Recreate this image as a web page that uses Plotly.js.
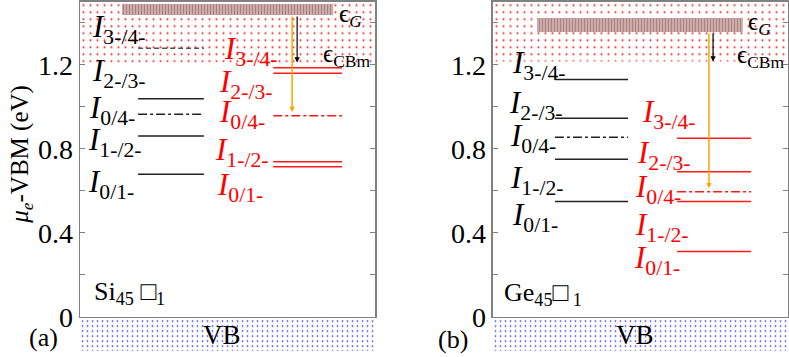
<!DOCTYPE html>
<html>
<head>
<meta charset="utf-8">
<script src="https://cdn.plot.ly/plotly-3.0.1.min.js"></script>
<style>body{margin:0}#chart{width:789px;height:357px}</style>
</head>
<body>
<div id="chart"></div>
<script>
// level names, same order in both panels
const levelNames = ['0/1-', '1-/2-', '0/4-', '2-/3-', '3-/4-']

// (a) Si45 - black and red transition levels (eV)
const siBlack = [0.678, 0.860, 0.964, 1.038, 1.278]
const siRed = [0.714, 0.738, 0.957, 1.159, 1.186]
const siEpsG = 1.463
const siCBm = 1.21
const siArrowTo = 0.975

// (b) Ge45
const geBlack = [0.548, 0.750, 0.854, 0.945, 1.130]
const geRed = [0.310, 0.548, 0.595, 0.690, 0.850]
const geEpsG = 1.389
const geCBm = 1.215
const geArrowTo = 0.612

const yTicks = [0, 0.2, 0.4, 0.6, 0.8, 1.0, 1.2, 1.4]
const yTickText = ['0', '', '0.4', '', '0.8', '', '1.2', '']

const FONT = 'Liberation Serif, Times New Roman, serif'
const YTOP = 1.5

const panels = [
    {
        xa: 'x', ya: 'y', vb: 'y3', name: 'Si', tag: '(a)',
        black: siBlack, red: siRed, epsG: siEpsG, gHalf: 0.026, cbm: siCBm, arrowTo: siArrowTo,
        blackX: [0.197, 0.42], redX: [0.655, 0.888], barX: [0.142, 0.858],
        blackDash: ['solid', 'solid', 'dashdot', 'solid', '5px,3px'],
        blackColor: ['#222', '#222', '#222', '#222', '#555'],
        redDash: ['solid', 'solid', 'dashdot', 'solid', 'solid'],
        orangeX: 0.719, arrowX: 0.736,
        blackLab: {x: [0.020, 0.020, 0.024, 0.034, 0.034], y: [0.634, 0.830, 0.982, 1.160, 1.369]},
        redLab: {x: [0.458, 0.451, 0.464, 0.464, 0.481], y: [0.618, 0.784, 0.965, 1.106, 1.263]},
        compound: 'Si<sub>45</sub> \u25A1<sub>1</sub>', compX: 0.040, compY: 0.113,
        gLab: [0.871, 1.432], cbmLab: [0.818, 1.246],
        tagX: -0.051, tagY: 0.056
    },
    {
        xa: 'x2', ya: 'y2', vb: 'y4', name: 'Ge', tag: '(b)',
        black: geBlack, red: geRed, epsG: geEpsG, gHalf: 0.033, cbm: geCBm, arrowTo: geArrowTo,
        blackX: [0.21, 0.458], redX: [0.624, 0.875], barX: [0.149, 0.847],
        blackDash: ['solid', 'solid', 'dashdot', 'solid', 'solid'],
        blackColor: ['#222', '#222', '#222', '#222', '#222'],
        redDash: ['solid', 'solid', 'dashdot', 'solid', 'solid'],
        orangeX: 0.732, arrowX: 0.746,
        blackLab: {x: [0.058, 0.051, 0.051, 0.047, 0.058], y: [0.475, 0.651, 0.851, 1.008, 1.199]},
        redLab: {x: [0.471, 0.475, 0.475, 0.481, 0.498], y: [0.270, 0.425, 0.606, 0.770, 0.965]},
        compound: 'Ge<sub>45</sub>\u25A1<sub> 1</sub>', compX: 0.031, compY: 0.108,
        gLab: [0.858, 1.394], cbmLab: [0.822, 1.237],
        tagX: 0.527, tagY: 0.048
    }
]

const traces = []
const annotations = []

for (let p of panels) {
    // conduction band region (red dots)
    traces.push({
        x: [0, 1, 1, 0, 0], y: [p.cbm, p.cbm, YTOP, YTOP, p.cbm],
        xaxis: p.xa, yaxis: p.ya, mode: 'lines', fill: 'toself',
        line: {width: 0}, fillcolor: 'rgba(255,255,255,0)',
        fillpattern: {shape: '.', fgcolor: '#ff2020', bgcolor: 'white', size: 7, solidity: 0.07},
        hoverinfo: 'skip', showlegend: false
    })
    // valence band region (blue dots)
    traces.push({
        x: [0, 1, 1, 0, 0], y: [0, 0, 1, 1, 0],
        xaxis: p.xa, yaxis: p.vb, mode: 'lines', fill: 'toself',
        line: {width: 0}, fillcolor: 'rgba(255,255,255,0)',
        fillpattern: {shape: '.', fgcolor: '#2020ff', bgcolor: 'white', size: 5, solidity: 0.09},
        hoverinfo: 'skip', showlegend: false
    })
    // eps_G bar
    const g0 = p.epsG - p.gHalf, g1 = p.epsG + p.gHalf
    traces.push({
        x: [p.barX[0], p.barX[1], p.barX[1], p.barX[0], p.barX[0]], y: [g0, g0, g1, g1, g0],
        xaxis: p.xa, yaxis: p.ya, mode: 'lines', fill: 'toself',
        line: {width: 0}, fillcolor: 'rgb(195,160,160)',
        fillpattern: {shape: '|', fgcolor: 'rgb(175,130,130)', bgcolor: 'rgb(210,180,180)', size: 3, solidity: 0.45},
        hoverinfo: 'skip', showlegend: false
    })
    // levels
    p.black.forEach((v, i) => {
        traces.push({
            x: p.blackX, y: [v, v], xaxis: p.xa, yaxis: p.ya, mode: 'lines',
            line: {color: p.blackColor[i], width: 1.5, dash: p.blackDash[i]},
            hoverinfo: 'skip', showlegend: false
        })
        annotations.push({
            xref: p.xa, yref: p.ya, x: p.blackLab.x[i], y: p.blackLab.y[i],
            xanchor: 'left', yanchor: 'middle', showarrow: false,
            text: '<i>I</i><sub>' + levelNames[i] + '</sub>',
            font: {family: FONT, size: 31, color: 'black'}
        })
    })
    p.red.forEach((v, i) => {
        traces.push({
            x: p.redX, y: [v, v], xaxis: p.xa, yaxis: p.ya, mode: 'lines',
            line: {color: '#ff1a1a', width: 1.5, dash: p.redDash[i]},
            hoverinfo: 'skip', showlegend: false
        })
        annotations.push({
            xref: p.xa, yref: p.ya, x: p.redLab.x[i], y: p.redLab.y[i],
            xanchor: 'left', yanchor: 'middle', showarrow: false,
            text: '<i>I</i><sub>' + levelNames[i] + '</sub>',
            font: {family: FONT, size: 31, color: 'red'}
        })
    })

    // arrows
    annotations.push({
        xref: p.xa, yref: p.ya, axref: p.xa, ayref: p.ya,
        x: p.orangeX, y: p.arrowTo, ax: p.orangeX, ay: g0,
        showarrow: true, arrowcolor: 'orange', arrowwidth: 1.5, arrowhead: 2, arrowsize: 0.7, text: ''
    })
    annotations.push({
        xref: p.xa, yref: p.ya, axref: p.xa, ayref: p.ya,
        x: p.arrowX, y: p.cbm, ax: p.arrowX, ay: g0,
        showarrow: true, arrowcolor: 'black', arrowwidth: 1.2, arrowhead: 2, arrowsize: 0.9, text: ''
    })

    annotations.push({
        xref: p.xa, yref: p.ya, x: p.gLab[0], y: p.gLab[1], xanchor: 'left', yanchor: 'middle',
        showarrow: false, text: '\u03F5<sub><i>G</i></sub>', font: {family: FONT, size: 25, color: 'black'}
    })
    annotations.push({
        xref: p.xa, yref: p.ya, x: p.cbmLab[0], y: p.cbmLab[1], xanchor: 'left', yanchor: 'middle',
        showarrow: false, text: '\u03F5<sub>CBm</sub>', font: {family: FONT, size: 25, color: 'black'}
    })
    annotations.push({
        xref: p.xa, yref: p.ya, x: p.compX, y: p.compY, xanchor: 'left', yanchor: 'middle',
        showarrow: false, text: p.compound, font: {family: FONT, size: 26, color: 'black'}
    })
    annotations.push({
        xref: p.xa, yref: p.vb, x: 0.48, y: 0.5, xanchor: 'center', yanchor: 'middle',
        showarrow: false, text: 'VB', font: {family: FONT, size: 27, color: 'black'}
    })
    annotations.push({
        xref: 'paper', yref: 'paper', x: p.tagX, y: p.tagY, xanchor: 'center', yanchor: 'middle',
        showarrow: false, text: p.tag, font: {family: FONT, size: 26, color: 'black'}
    })
}

annotations.push({
    xref: 'paper', yref: 'paper', x: -0.082, y: 0.569, textangle: -90,
    xanchor: 'center', yanchor: 'middle', showarrow: false,
    text: '<i>\u03BC</i><sub><i>e</i></sub>-VBM (eV)', font: {family: FONT, size: 25, color: 'black'}
})

const mainDomain = [0.1129, 0.9952]
const vbDomain = [0.0168, 0.1078]

const xAxis = (domain, anchor) => ({
    domain, anchor, range: [0, 1], showline: true, mirror: true, linecolor: '#808080', linewidth: 1.5,
    showticklabels: false, ticks: '', showgrid: false, zeroline: false, fixedrange: true
})
const yAxis = (anchor) => ({
    domain: mainDomain, anchor, range: [0, YTOP], showline: true, mirror: 'ticks',
    linecolor: '#808080', linewidth: 1.5, ticks: 'inside', ticklen: 5, tickcolor: '#808080',
    tickvals: yTicks, ticktext: yTickText, tickfont: {family: FONT, size: 28, color: 'black'},
    showgrid: false, zeroline: false, fixedrange: true
})
const vbAxis = (anchor) => ({domain: vbDomain, anchor, range: [0, 1], visible: false, fixedrange: true})

const layout = {
    width: 789, height: 357,
    margin: {l: 80, r: 1, t: 0, b: 0},
    paper_bgcolor: 'white', plot_bgcolor: 'rgba(0,0,0,0)',
    showlegend: false,
    xaxis: xAxis([0, 0.4167], 'y'),
    yaxis: yAxis('x'),
    xaxis2: xAxis([0.5833, 1], 'y2'),
    yaxis2: yAxis('x2'),
    yaxis3: vbAxis('x'),
    yaxis4: vbAxis('x2'),
    annotations
}

Plotly.newPlot('chart', traces, layout, {staticPlot: true})
</script>
</body>
</html>
